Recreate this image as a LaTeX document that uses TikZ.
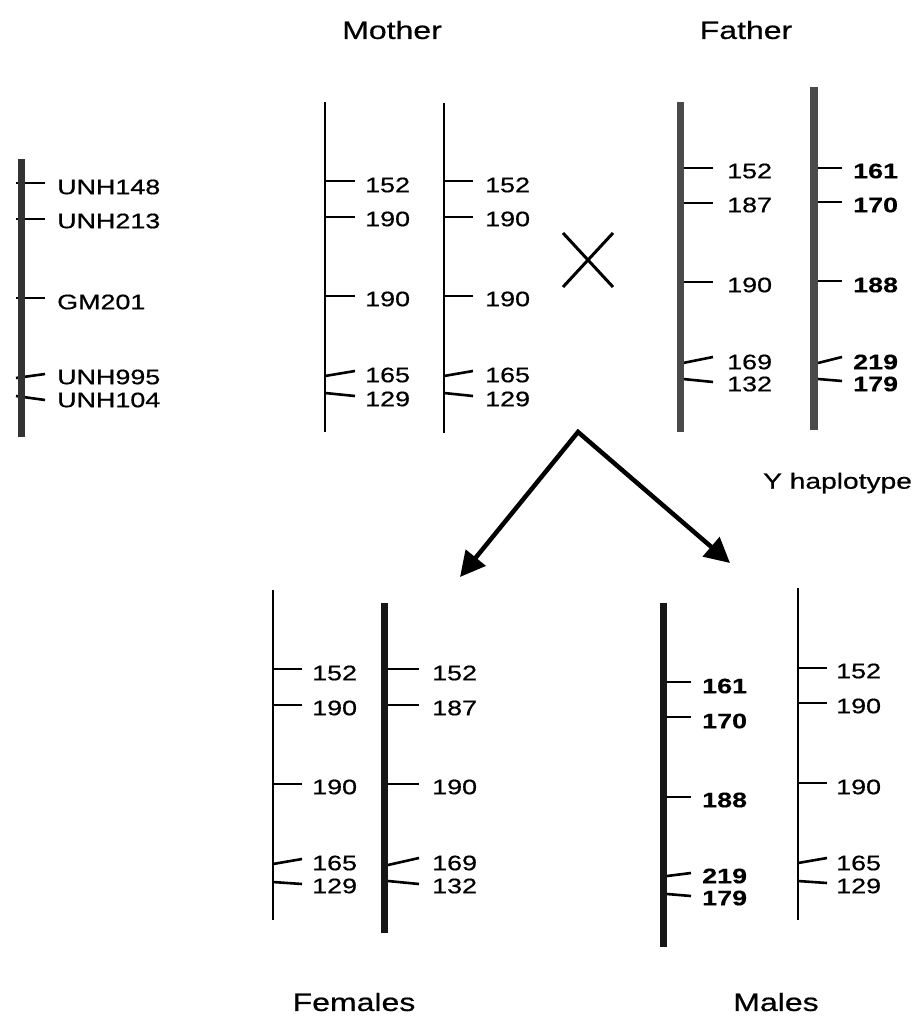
\documentclass[tikz,border=0pt]{standalone}
\usepackage{fontspec}
\setmainfont{Liberation Sans}
\newfontfamily\labfont[FakeStretch=1.28,FakeBold=0.6,BoldFeatures={FakeBold=0.3}]{Liberation Sans}
\usetikzlibrary{arrows.meta}
\definecolor{chrdark}{HTML}{333333}
\definecolor{chrgray}{HTML}{4A4A4A}
\definecolor{chrblack}{HTML}{161616}
\newcommand\chromblock[8]{% #1 prefix, #2 x, #3 tick start, #4 tick end, #5 label x, #6 list, #7 label style, #8 unused
  \foreach \ya/\yb/\yl/\t [count=\i] in {#6}{
    \draw[tickln] (#3,\ya) -- (#4,\yb);
    \node[#7] (#1-\i) at (#5,\yl) {\t};
  }}
\begin{document}
\begin{tikzpicture}[x=1pt,y=-1pt,
  chrthin/.style={line width=2.6pt,draw=black},
  chrthick/.style={line width=7pt},
  tickln/.style={line width=2.6pt,draw=black},
  lab/.style={anchor=west,inner sep=0pt,font=\labfont\fontsize{21}{25}\selectfont},
  blab/.style={lab,font=\labfont\fontsize{21}{25}\selectfont\bfseries},
  ttl/.style={inner sep=0pt,font=\labfont\fontsize{25}{30}\selectfont},
  arr/.style={line width=4.5pt,line join=miter,{Triangle[length=25pt,width=25pt]}-{Triangle[length=25pt,width=25pt]}}
]
\useasboundingbox[fill=white] (0,0) rectangle (914,1017);

% reference chromosome
\chromblock{L}{21.5}{16}{45}{57}{183/183/187/UNH148, 219/219/221/UNH213, 298/298/302/GM201, 378/374/377/UNH995, 396/400/400/UNH104}{lab}{}
\draw[chrthick,draw=chrdark] (21.5,159) -- (21.5,437);

% mother
\draw[chrthin] (325,102) -- (325,432);
\chromblock{MA}{325}{325}{355}{365}{181/181/185/152, 217/217/219/190, 296/296/299/190, 376/371/375/165, 393/396/399/129}{lab}{}
\draw[chrthin] (444,103) -- (444,433);
\chromblock{MB}{444}{444}{473}{485}{181/181/185/152, 217/217/219/190, 296/296/299/190, 376/371/375/165, 393/396/399/129}{lab}{}

% father
\chromblock{FA}{680}{683}{713}{727}{168/168/171/152, 203/203/205/187, 282/282/285/190, 363/357/362/169, 379/382/384/132}{lab}{}
\draw[chrthick,draw=chrgray] (680,102) -- (680,432);
\chromblock{FB}{814}{818}{842}{853}{168/168/171/161, 202/202/205/170, 281/281/285/188, 363/357/362/219, 379/381/384/179}{blab}{}
\draw[line width=7.5pt,draw=chrgray] (814,87) -- (814,430);

% titles
\node[ttl] (mother) at (392,30) {Mother};
\node[ttl] (father) at (746,30) {Father};
\node[ttl] (females) at (354,1002) {Females};
\node[ttl] (males) at (776,1002) {Males};
\node[lab,font=\labfont\fontsize{22}{26}\selectfont] (yhap) at (763,483) {Y haplotype};

% cross
\coordinate (x1) at (563,233); \coordinate (x2) at (613,287);
\coordinate (x3) at (613,233); \coordinate (x4) at (563,287);
\draw[line width=3pt] (x1) -- (x2);
\draw[line width=3pt] (x3) -- (x4);

% arrows
\coordinate (apex) at (578,432);
\coordinate (tipL) at (460,577);
\coordinate (tipR) at (730,563);
\draw[arr] (tipL) -- (apex) -- (tipR);

% females
\draw[chrthin] (273,590) -- (273,920);
\chromblock{FeA}{273}{273}{302}{312}{669/669/673/152, 705/705/708/190, 784/784/787/190, 864/859/863/165, 882/884/886/129}{lab}{}
\chromblock{FeB}{384}{388}{419}{432}{669/669/673/152, 705/705/708/187, 784/784/787/190, 865/858/863/169, 881/884/886/132}{lab}{}
\draw[chrthick,draw=chrblack] (384,603) -- (384,933);

% males
\chromblock{MaA}{663}{667}{691}{702}{682/682/686/161, 717/717/721/170, 797/797/800/188, 876/873/876/219, 894/896/898/179}{blab}{}
\draw[chrthick,draw=chrblack] (663,603) -- (663,947);
\draw[chrthin] (798,588) -- (798,920);
\chromblock{MaB}{798}{798}{827}{836}{668/668/671/152, 703/703/706/190, 783/783/787/190, 863/858/863/165, 881/883/886/129}{lab}{}
\end{tikzpicture}
\end{document}
